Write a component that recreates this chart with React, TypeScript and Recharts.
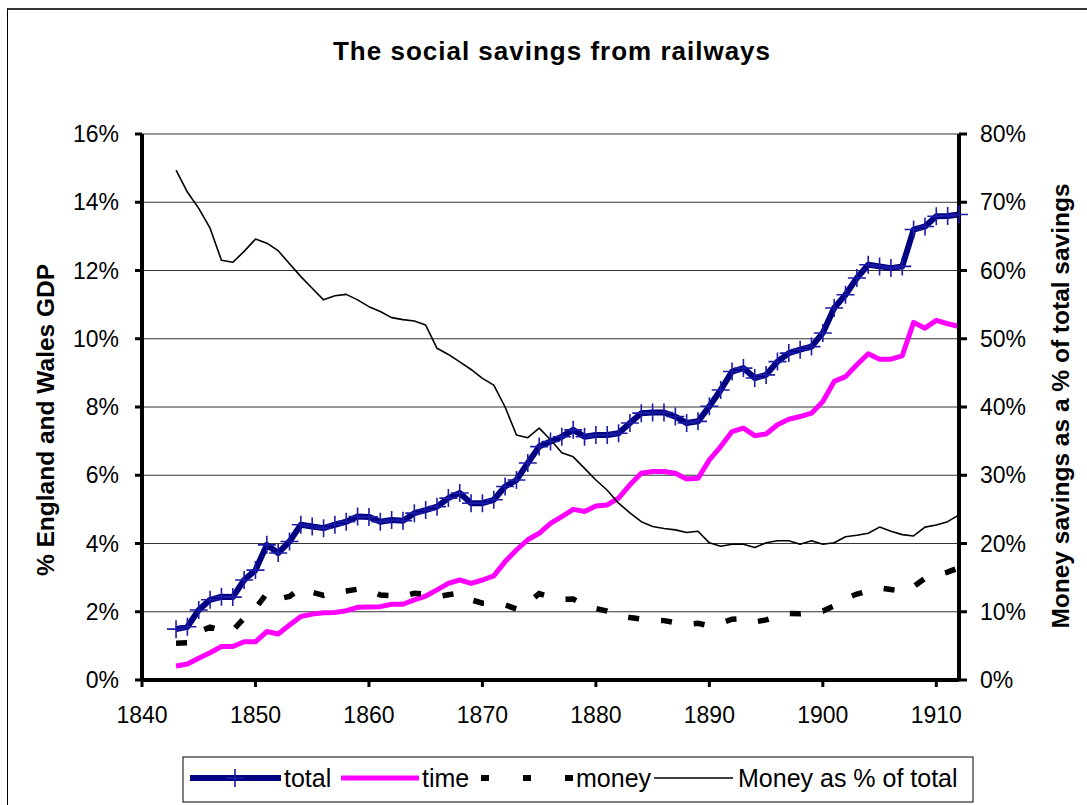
import React from 'react';
import { ComposedChart, Line, XAxis, YAxis, CartesianGrid } from 'recharts';

const years = [
  1843, 1844, 1845, 1846, 1847, 1848, 1849, 1850, 1851, 1852, 1853, 1854, 1855, 1856, 1857, 1858, 1859, 1860,
  1861, 1862, 1863, 1864, 1865, 1866, 1867, 1868, 1869, 1870, 1871, 1872, 1873, 1874, 1875, 1876, 1877, 1878, 1879, 1880,
  1881, 1882, 1883, 1884, 1885, 1886, 1887, 1888, 1889, 1890, 1891, 1892, 1893, 1894, 1895, 1896, 1897, 1898, 1899, 1900,
  1901, 1902, 1903, 1904, 1905, 1906, 1907, 1908, 1909, 1910, 1911, 1912,
];

const totalSavings = [
  1.49, 1.56, 2.05, 2.35, 2.44, 2.43, 2.93, 3.22, 3.96, 3.72, 4.06, 4.55, 4.5, 4.45, 4.55, 4.64, 4.79, 4.78,
  4.64, 4.69, 4.67, 4.89, 4.98, 5.08, 5.33, 5.48, 5.18, 5.18, 5.28, 5.67, 5.86, 6.36, 6.84, 6.99, 7.13, 7.33, 7.13, 7.18,
  7.18, 7.23, 7.53, 7.82, 7.84, 7.84, 7.72, 7.53, 7.58, 8.02, 8.5, 9.04, 9.14, 8.85, 8.94, 9.33, 9.58, 9.68, 9.77, 10.17,
  10.9, 11.29, 11.78, 12.17, 12.12, 12.07, 12.12, 13.2, 13.29, 13.59, 13.6, 13.64,
];

const timeSavings = [
  0.41, 0.47, 0.64, 0.8, 0.98, 0.98, 1.12, 1.12, 1.42, 1.35, 1.61, 1.86, 1.93, 1.97, 1.98, 2.03, 2.13, 2.14,
  2.15, 2.22, 2.22, 2.35, 2.46, 2.64, 2.83, 2.93, 2.83, 2.93, 3.05, 3.47, 3.81, 4.11, 4.3, 4.59, 4.79, 5.0, 4.94, 5.1,
  5.13, 5.33, 5.72, 6.06, 6.11, 6.11, 6.06, 5.89, 5.91, 6.45, 6.84, 7.28, 7.38, 7.16, 7.21, 7.48, 7.64, 7.72, 7.82, 8.16,
  8.75, 8.89, 9.24, 9.56, 9.4, 9.4, 9.5, 10.48, 10.31, 10.54, 10.44, 10.36,
];

const moneySavings = [
  1.08, 1.09, 1.41, 1.55, 1.46, 1.45, 1.81, 2.1, 2.54, 2.37, 2.45, 2.69, 2.57, 2.48, 2.57, 2.61, 2.66, 2.64,
  2.49, 2.47, 2.45, 2.54, 2.52, 2.44, 2.5, 2.55, 2.35, 2.25, 2.23, 2.2, 2.08, 2.25, 2.53, 2.43, 2.36, 2.37, 2.2, 2.09,
  2.02, 1.88, 1.83, 1.79, 1.75, 1.74, 1.68, 1.63, 1.66, 1.59, 1.67, 1.78, 1.8, 1.7, 1.76, 1.87, 1.95, 1.94, 1.97, 2.02,
  2.17, 2.39, 2.52, 2.61, 2.7, 2.65, 2.6, 2.74, 2.98, 3.07, 3.16, 3.29,
];

const moneyShare = [
  74.7, 71.5, 69.1, 66.2, 61.5, 61.2, 62.8, 64.6, 64.0, 62.9, 61.0, 59.1, 57.4, 55.7, 56.3, 56.5, 55.7, 54.7,
  54.0, 53.1, 52.8, 52.6, 52.0, 48.6, 47.7, 46.6, 45.5, 44.2, 43.2, 40.0, 35.9, 35.5, 36.9, 35.2, 33.3, 32.7, 31.0, 29.3,
  27.8, 25.9, 24.5, 23.2, 22.5, 22.2, 22.0, 21.6, 21.8, 20.1, 19.6, 19.9, 19.9, 19.4, 20.1, 20.4, 20.4, 19.9, 20.4, 19.9,
  20.1, 21.0, 21.2, 21.5, 22.4, 21.8, 21.3, 21.1, 22.4, 22.7, 23.2, 24.2,
];

const xTicks = [1840, 1850, 1860, 1870, 1880, 1890, 1900, 1910];
const leftTicks = [0, 2, 4, 6, 8, 10, 12, 14, 16];
const rightTicks = [0, 10, 20, 30, 40, 50, 60, 70, 80];

const data = years.map((year, i) => ({
  year,
  total: totalSavings[i],
  time: timeSavings[i],
  money: moneySavings[i],
  share: moneyShare[i],
}));

const FONT = "'Liberation Sans', Arial, Helvetica, sans-serif";
const NAVY = '#000080';
const CROSS = '#1c1ca8';
const MAGENTA = '#ff00ff';

const CrossDot = (props: any) => {
  const { cx, cy, index } = props;
  if (cx == null || cy == null) return <g key={`c${index}`} />;
  return (
    <path
      key={`c${index}`}
      d={`M${cx - 9},${cy}H${cx + 9}M${cx},${cy - 9}V${cy + 9}`}
      stroke={CROSS}
      strokeWidth={1.6}
      fill="none"
    />
  );
};

const tickStyle = { fontSize: 23, fill: '#000', fontFamily: FONT };

export default function App() {
  return (
    <div style={{ position: 'absolute', left: 0, top: 0, width: 1087, height: 805, background: '#fff', overflow: 'hidden' }}>
      <div
        style={{
          position: 'absolute',
          left: 7,
          top: 8,
          width: 1200,
          height: 1000,
          borderTop: '2px solid #333',
          borderLeft: '1px solid #000',
        }}
      />
      <div style={{ position: 'absolute', left: 0, top: 0 }}>
        <ComposedChart width={1087} height={805} data={data} margin={{ top: 134, right: 48, bottom: 95, left: 62 }}>
          <CartesianGrid yAxisId="left" horizontal vertical={false} stroke="#333" strokeWidth={1} />
          <XAxis
            dataKey="year"
            type="number"
            domain={[1840, 1912]}
            ticks={xTicks}
            interval={0}
            height={30}
            tick={tickStyle}
            tickSize={7}
            tickMargin={20}
            tickLine={{ stroke: '#000', strokeWidth: 3 }}
            axisLine={{ stroke: '#000', strokeWidth: 4 }}
          />
          <YAxis
            yAxisId="left"
            orientation="left"
            width={80}
            domain={[0, 16]}
            ticks={leftTicks}
            interval={0}
            tickFormatter={(v: number) => `${v}%`}
            tick={tickStyle}
            tickSize={7}
            tickMargin={16}
            tickLine={{ stroke: '#000', strokeWidth: 3 }}
            axisLine={{ stroke: '#000', strokeWidth: 4 }}
          />
          <YAxis
            yAxisId="right"
            orientation="right"
            width={80}
            domain={[0, 80]}
            ticks={rightTicks}
            interval={0}
            tickFormatter={(v: number) => `${v}%`}
            tick={tickStyle}
            tickSize={8}
            tickMargin={13}
            tickLine={{ stroke: '#000', strokeWidth: 3 }}
            axisLine={{ stroke: '#000', strokeWidth: 4 }}
          />
          <Line
            yAxisId="left"
            type="linear"
            dataKey="total"
            stroke={NAVY}
            strokeWidth={6}
            strokeLinejoin="round"
            dot={CrossDot}
            activeDot={false}
            isAnimationActive={false}
          />
          <Line
            yAxisId="left"
            type="linear"
            dataKey="time"
            stroke={MAGENTA}
            strokeWidth={5}
            strokeLinejoin="round"
            dot={false}
            activeDot={false}
            isAnimationActive={false}
          />
          <Line
            yAxisId="left"
            type="linear"
            dataKey="money"
            stroke="#000"
            strokeWidth={5.5}
            strokeDasharray="11 22"
            dot={false}
            activeDot={false}
            isAnimationActive={false}
          />
          <Line
            yAxisId="right"
            type="linear"
            dataKey="share"
            stroke="#000"
            strokeWidth={1.6}
            strokeLinejoin="round"
            dot={false}
            activeDot={false}
            isAnimationActive={false}
          />
        </ComposedChart>
      </div>
      <svg
        width={1087}
        height={805}
        style={{ position: 'absolute', left: 0, top: 0, pointerEvents: 'none' }}
        fontFamily={FONT}
      >
        <text x={552} y={60} textAnchor="middle" fontSize={26} fontWeight="bold" letterSpacing={1} fill="#000">
          The social savings from railways
        </text>
        <text
          transform="translate(45,420) rotate(-90)"
          textAnchor="middle"
          dominantBaseline="central"
          fontSize={24.5}
          fontWeight="bold"
          fill="#000"
        >
          % England and Wales GDP
        </text>
        <text
          transform="translate(1060,406) rotate(-90)"
          textAnchor="middle"
          dominantBaseline="central"
          fontSize={24.5}
          fontWeight="bold"
          fill="#000"
        >
          Money savings as a % of total savings
        </text>
        <rect x={183} y={757} width={790} height={45} fill="#fff" stroke="#000" strokeWidth={1} />
        <line x1={190} y1={778} x2={281} y2={778} stroke={NAVY} strokeWidth={6} />
        <path d="M226,778H244M235,769V787" stroke={CROSS} strokeWidth={1.6} />
        <text x={284} y={778} dominantBaseline="central" fontSize={25} fill="#000">total</text>
        <line x1={341} y1={778} x2={419} y2={778} stroke={MAGENTA} strokeWidth={5} />
        <text x={422} y={778} dominantBaseline="central" fontSize={25} fill="#000">time</text>
        <line x1={481} y1={778} x2={489} y2={778} stroke="#000" strokeWidth={6} />
        <line x1={523} y1={778} x2={531} y2={778} stroke="#000" strokeWidth={6} />
        <line x1={565} y1={778} x2={573} y2={778} stroke="#000" strokeWidth={6} />
        <text x={576} y={778} dominantBaseline="central" fontSize={25} fill="#000">money</text>
        <line x1={654} y1={778} x2={733} y2={778} stroke="#000" strokeWidth={1.6} />
        <text x={738} y={778} dominantBaseline="central" fontSize={25} fill="#000">Money as % of total</text>
      </svg>
    </div>
  );
}
